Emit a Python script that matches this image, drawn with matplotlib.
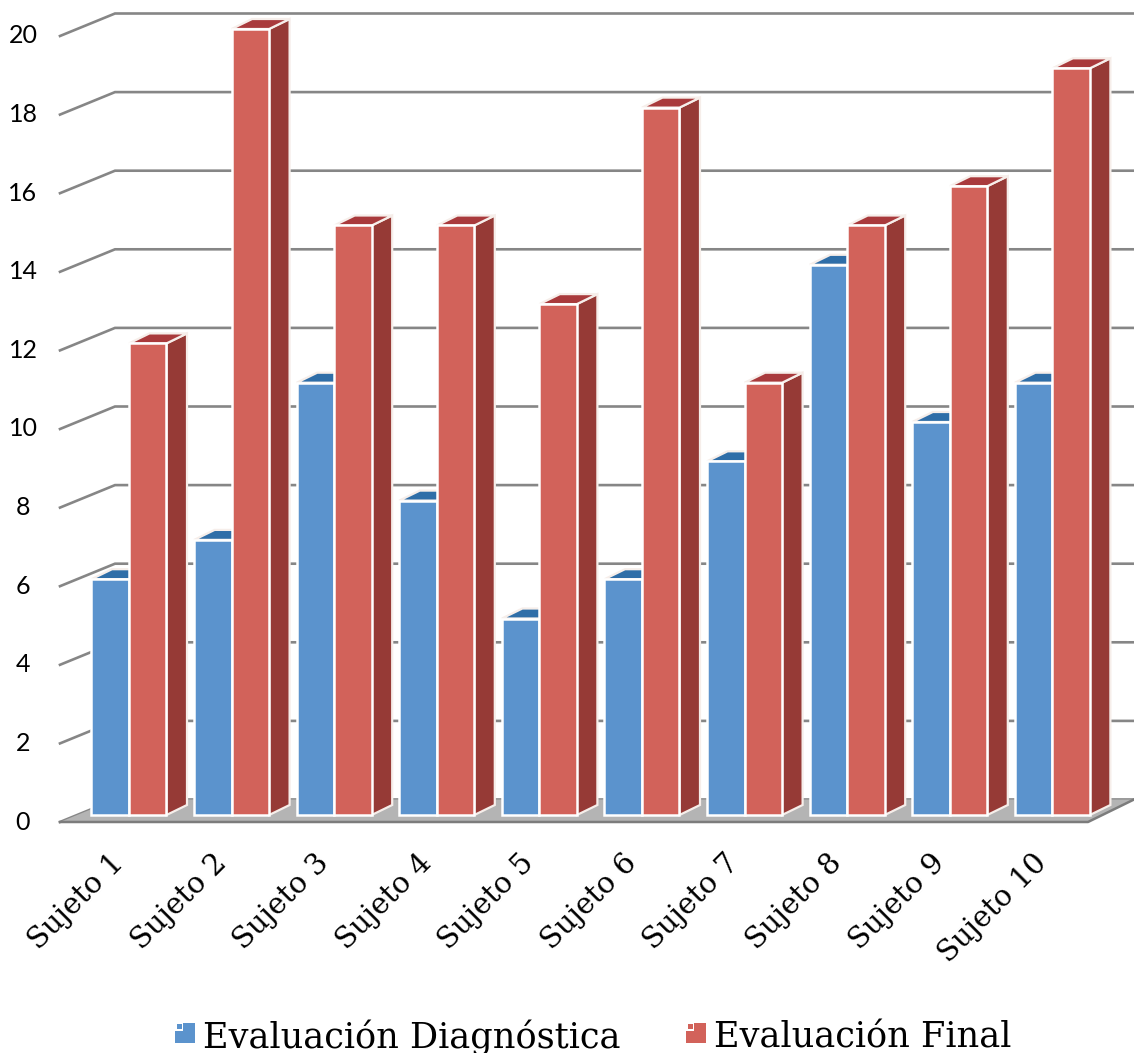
"""
Bar chart with a 3D look: diagnostic vs final evaluation per subject
"""

import numpy as np
import matplotlib
matplotlib.use('Agg')
import matplotlib.pyplot as plt
from matplotlib.patches import Polygon, Rectangle

# Data
subjects = ['Sujeto 1', 'Sujeto 2', 'Sujeto 3', 'Sujeto 4', 'Sujeto 5',
            'Sujeto 6', 'Sujeto 7', 'Sujeto 8', 'Sujeto 9', 'Sujeto 10']
diagnostica = [6, 7, 11, 8, 5, 6, 9, 14, 10, 11]
final = [12, 20, 15, 15, 13, 18, 11, 15, 16, 19]
y_ticks = [0, 2, 4, 6, 8, 10, 12, 14, 16, 18, 20]
legend_names = ['Evaluación Diagnóstica', 'Evaluación Final']

# Colours
BLUE, BLUE_TOP, BLUE_SIDE = '#5b93cd', '#2f6ea8', '#2f5f90'
RED, RED_TOP, RED_SIDE = '#d2625a', '#a93a3c', '#963a36'
GRID = '#868686'
FLOOR = '#b4b4b4'

# Scale of the picture
W, H = 1134, 1053
PX_X = 102.6   # pixels per category
PX_Y = 39.3    # pixels per value unit
X0 = 129       # pixel of first category centre
Y0 = 815       # pixel of value 0 at the bar base

bar_w = 37.5 / PX_X
bar_dx, bar_dy = 20.5 / PX_X, 10 / PX_Y     # depth of the bars
wall_left, wall_back = -69 / PX_X, -14 / PX_X
wall_right = (W - X0) / PX_X
front_off, back_off = -7 / PX_Y, 15.5 / PX_Y


def draw_bar(ax, x_left, value, face, top, side, z):
    x_right = x_left + bar_w
    ax.add_patch(Polygon([(x_right, 0), (x_right + bar_dx, bar_dy),
                          (x_right + bar_dx, value + bar_dy), (x_right, value)],
                         fc=side, ec='#f6eeea', lw=1.6, zorder=z))
    ax.add_patch(Polygon([(x_left, value), (x_right, value),
                          (x_right + bar_dx, value + bar_dy),
                          (x_left + bar_dx, value + bar_dy)],
                         fc=top, ec='#f6eeea', lw=1.6, zorder=z))
    ax.add_patch(Rectangle((x_left, 0), bar_w, value, fc=face, ec='white',
                           lw=1.8, zorder=z + 0.1))


fig = plt.figure(figsize=(W / 100, H / 100), dpi=100)
ax = fig.add_axes([0, 0, 1, 1])
ax.set_xlim(-X0 / PX_X, (W - X0) / PX_X)
ax.set_ylim(-(H - Y0) / PX_Y, Y0 / PX_Y)
ax.axis('off')

# Back wall gridlines and the slanted left part
for v in y_ticks:
    ax.plot([wall_left, wall_back, wall_right],
            [v + front_off, v + back_off, v + back_off],
            color=GRID, lw=1.9, zorder=1, solid_joinstyle='miter')
    ax.text(-106 / PX_X, v + front_off, str(v), ha='center', va='center',
            fontsize=18, family='Lato', color='black')

# Floor
floor_right = (1088 - X0) / PX_X
ax.add_patch(Polygon([(wall_left, front_off), (wall_back, back_off),
                      (wall_right, back_off), (floor_right, front_off)],
                     fc=FLOOR, ec='none', zorder=1.5))
ax.plot([wall_left, floor_right, wall_right],
        [front_off, front_off, back_off], color='#7c7c7c', lw=1.8, zorder=1.6)

# Bars
for i in range(len(subjects)):
    draw_bar(ax, i - bar_w, diagnostica[i], BLUE, BLUE_TOP, BLUE_SIDE, 3 + i)
    draw_bar(ax, i, final[i], RED, RED_TOP, RED_SIDE, 3.3 + i)
    ax.text(i - 0.19, -0.85, subjects[i], rotation=45, rotation_mode='anchor',
            ha='right', va='top', fontsize=21, family='DejaVu Serif', color='black')

# Legend, cut by the bottom edge as in the source
for x_px, name, color, text_px in zip([175, 686], legend_names, [BLUE, RED], [203, 714]):
    fig.add_artist(Rectangle((x_px / W, 1 - 1043 / H), 20 / W, 20 / H, fc=color, ec='none',
                             transform=fig.transFigure))
    fig.add_artist(Rectangle(((x_px + 0) / W, 1 - 1031 / H), 8 / W, 8 / H, fc='white', ec='none',
                             transform=fig.transFigure))
    fig.add_artist(Rectangle(((x_px + 2) / W, 1 - 1029 / H), 5 / W, 5 / H, fc=color, ec='none',
                             transform=fig.transFigure))
    fig.text(text_px / W, 1 - 1048 / H, name, ha='left', va='baseline',
             fontsize=25.3, family='DejaVu Serif', color='black')

plt.savefig('out.png', dpi=100)
